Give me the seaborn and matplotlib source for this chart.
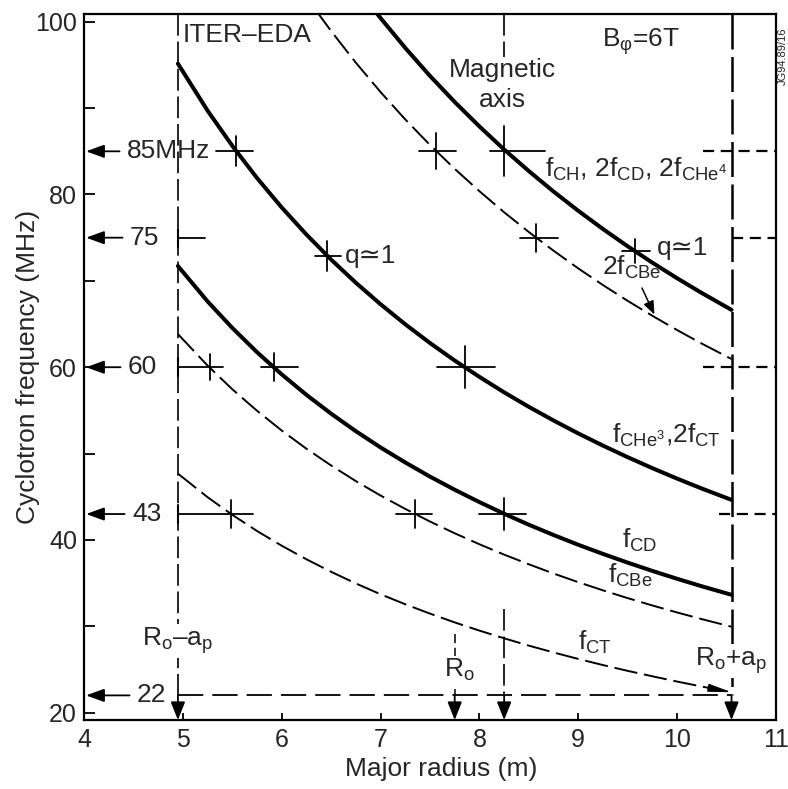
import matplotlib
matplotlib.use("Agg")
import matplotlib.pyplot as plt
from matplotlib.ticker import FixedLocator
import seaborn as sns

# ---------------------------------------------------------------- data
# Major-radius sample points (m)
R_FULL = [4.95, 5.25, 5.5, 5.75, 6.0, 6.25, 6.5, 6.75, 7.0, 7.25, 7.5, 7.75,
          8.0, 8.25, 8.5, 8.75, 9.0, 9.25, 9.5, 9.75, 10.0, 10.25, 10.55]
R_CH = [6.95, 7.0, 7.25, 7.5, 7.75, 8.0, 8.25, 8.5, 8.75, 9.0, 9.25, 9.5,
        9.75, 10.0, 10.25, 10.55]
R_2CBE = [6.35, 6.5, 6.75, 7.0, 7.25, 7.5, 7.75, 8.0, 8.25, 8.5, 8.75, 9.0,
          9.25, 9.5, 9.75, 10.0, 10.25, 10.55]

# Cyclotron frequencies (MHz) at B_phi = 6 T
F_CH = [101.15, 100.43, 96.97, 93.73, 90.71, 87.88, 85.21, 82.71, 80.34,
        78.11, 76.00, 74.00, 72.10, 70.30, 68.59, 66.64]
F_2CBE = [101.26, 98.92, 95.26, 91.86, 88.69, 85.73, 82.97, 80.38, 77.94,
          75.65, 73.49, 71.44, 69.51, 67.68, 65.95, 64.30, 62.73, 60.95]
F_CHE3 = [95.15, 89.71, 85.64, 81.91, 78.50, 75.36, 72.46, 69.78, 67.29,
          64.97, 62.80, 60.77, 58.88, 57.09, 55.41, 53.83, 52.33, 50.92,
          49.58, 48.31, 47.10, 45.95, 44.64]
F_CD = [71.72, 67.62, 64.55, 61.74, 59.17, 56.80, 54.62, 52.59, 50.71,
        48.97, 47.33, 45.81, 44.38, 43.03, 41.76, 40.57, 39.44, 38.38,
        37.37, 36.41, 35.50, 34.63, 33.65]
F_CBE = [63.84, 60.19, 57.45, 54.96, 52.67, 50.56, 48.62, 46.81, 45.14,
         43.59, 42.13, 40.77, 39.50, 38.30, 37.18, 36.11, 35.11, 34.16,
         33.26, 32.41, 31.60, 30.83, 29.95]
F_CT = [47.68, 44.95, 42.91, 41.04, 39.33, 37.76, 36.31, 34.96, 33.71,
        32.55, 31.47, 30.45, 29.50, 28.61, 27.76, 26.97, 26.22, 25.51,
        24.84, 24.21, 23.60, 23.02, 22.37]

# Heating frequencies marked on the frequency axis
LEVELS = [85, 75, 60, 43, 22]
LEVEL_TEXT = ["85MHz", "75", "60", "43", "22"]

# Plasma geometry (m)
R_INNER = 4.95     # Ro - ap
R_0 = 7.75         # Ro
R_MAG = 8.25       # magnetic axis
R_OUTER = 10.55    # Ro + ap

# Resonance crossings (R, f)
CROSS_R = [5.54, 7.565, 8.25, 8.57, 6.46, 9.57, 5.27, 5.92, 7.85, 5.49, 7.35, 8.25]
CROSS_F = [85, 85, 85, 75, 72.9, 73.5, 60, 60, 60, 43, 43, 43]

# ---------------------------------------------------------------- styling
XMIN, XMAX, YMIN, YMAX = 4, 11, 19.15, 100.9
AX_PX = (84, 69, 692, 706)                     # left, bottom, width, height
PX_R = AX_PX[2] / (XMAX - XMIN)
PX_F = AX_PX[3] / (YMAX - YMIN)

# cross arm lengths in pixels: left, right, half-height
ARM_L = [20, 17, 14, 16, 12, 13, 32, 13, 28, 53, 19, 25]
ARM_R = [17, 20, 41, 22, 14, 15, 13, 24, 30, 22, 17, 22]
ARM_V = [15, 18, 25, 14, 15, 12, 13, 14, 21, 14, 14, 16]

SOLID = dict(linewidth=2.9, linestyle="-")
DASHED = dict(linewidth=1.4, linestyle=(0, (12, 3.5)))

sns.set_style("white", {"axes.edgecolor": "black"})
plt.rcParams["font.family"] = ["Liberation Sans", "DejaVu Sans"]
plt.rcParams["mathtext.fontset"] = "custom"
plt.rcParams["mathtext.rm"] = "Liberation Sans"
plt.rcParams["mathtext.it"] = "Liberation Sans:italic"
plt.rcParams["mathtext.bf"] = "Liberation Sans:bold"

FS = 19
fig = plt.figure(figsize=(7.88, 7.89), dpi=100)
W, H = 788, 789
ax = fig.add_axes([AX_PX[0] / W, AX_PX[1] / H, AX_PX[2] / W, AX_PX[3] / H])

# ---------------------------------------------------------------- curves
curves = [
    (R_CH, F_CH, SOLID),
    (R_2CBE, F_2CBE, DASHED),
    (R_FULL, F_CHE3, SOLID),
    (R_FULL, F_CD, SOLID),
    (R_FULL, F_CBE, DASHED),
    (R_FULL, F_CT, DASHED),
]
for rr, ff, st in curves:
    sns.lineplot(x=rr, y=ff, ax=ax, color="black", estimator=None,
                 sort=False, legend=False, **st)

# ---------------------------------------------------------------- crosses
for r, f, l, rgt, v in zip(CROSS_R, CROSS_F, ARM_L, ARM_R, ARM_V):
    ax.plot([r - l / PX_R, r + rgt / PX_R], [f, f], color="black", lw=1.3)
    ax.plot([r, r], [f - v / PX_F, f + v / PX_F], color="black", lw=1.3)

# short stub at 75 MHz and small bars on the Ro-ap line
ax.plot([R_INNER, R_INNER + 27 / PX_R], [75, 75], color="black", lw=1.3)
for lev in LEVELS[1:4]:
    ax.plot([R_INNER, R_INNER], [lev - 9 / PX_F, lev + 9 / PX_F],
            color="black", lw=1.5)

# right-hand dashed level markers
RIGHT_START = [10.26, 10.55, 10.26, 10.42]
for lev, r0 in zip(LEVELS[:4], RIGHT_START):
    ax.plot([r0, XMAX], [lev, lev], color="black", lw=1.6,
            linestyle=(0, (5, 3)))

# 22 MHz line
ax.plot([R_INNER, R_OUTER], [LEVELS[4], LEVELS[4]], color="black", lw=1.3,
        linestyle=(0, (14, 5)))

# vertical geometry lines
vdash = dict(color="black", lw=1.2, linestyle=(0, (13, 3.5)))
ax.plot([R_INNER, R_INNER], [YMAX, LEVELS[4]], **vdash)
ax.plot([R_OUTER, R_OUTER], [YMAX, LEVELS[4]], color="black", lw=1.8,
        linestyle=(0, (14, 3)))
ax.plot([R_0, R_0], [29.1, LEVELS[4]], color="black", lw=1.1,
        linestyle=(0, (6, 3)))
ax.plot([R_MAG, R_MAG], [YMAX, 95.9], **vdash)
ax.plot([R_MAG, R_MAG], [32.0, LEVELS[4]], **vdash)

# downward arrows onto the radius axis
for r in [R_INNER, R_0, R_MAG, R_OUTER]:
    ax.annotate("", xy=(r, YMIN), xytext=(r, LEVELS[4]),
                arrowprops=dict(arrowstyle="-|>,head_length=0.55,head_width=0.22",
                                color="black", lw=1.3, shrinkA=0, shrinkB=0,
                                mutation_scale=20))

# frequency labels with arrows onto the frequency axis
TEXT_R = [4.435, 4.465, 4.445, 4.486, 4.536]
for lev, txt, tr in zip(LEVELS, LEVEL_TEXT, TEXT_R):
    ax.annotate(txt, xy=(XMIN, lev), xytext=(tr, lev), ha="left", va="center",
                fontsize=FS,
                arrowprops=dict(arrowstyle="-|>,head_length=0.55,head_width=0.2",
                                color="black", lw=1.3, shrinkA=3, shrinkB=1.5,
                                mutation_scale=20))

# end of f_CT onto the 22 MHz line
ax.annotate("", xy=(R_OUTER, 22.37), xytext=(10.36, 22.78),
            arrowprops=dict(arrowstyle="-|>,head_length=0.7,head_width=0.12",
                            color="black", lw=1.0, shrinkA=0, shrinkB=0,
                            mutation_scale=20))

# ---------------------------------------------------------------- text
ax.text(5.0, 97.66, "ITER–EDA", fontsize=FS, ha="left", va="baseline")
ax.text(R_MAG - 0.02, 93.6, "Magnetic", fontsize=FS, ha="center", va="baseline")
ax.text(R_MAG - 0.02, 90.1, "axis", fontsize=FS, ha="center", va="baseline")
ax.text(9.24, 97.1, r"B$_{\mathregular{φ}}$=6T", fontsize=FS, ha="left",
        va="baseline")
ax.text(8.66, 82.0,
        r"f$_{\mathregular{CH}}$, 2f$_{\mathregular{CD}}$, 2f$_{\mathregular{CHe^4}}$",
        fontsize=FS, ha="left", va="baseline")
ax.text(6.64, 72.9, "q≃1", fontsize=FS, ha="left", va="center")
ax.text(9.80, 73.8, "q≃1", fontsize=FS, ha="left", va="center")
ax.text(9.24, 70.7, r"2f$_{\mathregular{CBe}}$", fontsize=FS, ha="left",
        va="baseline")
ax.annotate("", xy=(9.77, 66.1), xytext=(9.644, 69.17),
            arrowprops=dict(arrowstyle="-|>,head_length=0.5,head_width=0.2",
                            color="black", lw=1.1, shrinkA=0, shrinkB=0,
                            mutation_scale=16))
ax.text(9.34, 51.3, r"f$_{\mathregular{CHe^3}}$,2f$_{\mathregular{CT}}$",
        fontsize=FS, ha="left", va="baseline")
ax.text(9.44, 39.1, r"f$_{\mathregular{CD}}$", fontsize=FS, ha="left",
        va="baseline")
ax.text(9.30, 35.0, r"f$_{\mathregular{CBe}}$", fontsize=FS, ha="left",
        va="baseline")
ax.text(9.00, 27.3, r"f$_{\mathregular{CT}}$", fontsize=FS, ha="left",
        va="baseline")

wbox = dict(facecolor="white", edgecolor="none", pad=1.0)
ax.text(R_INNER, 28.3, r"R$_{\mathregular{o}}$–a$_{\mathregular{p}}$",
        fontsize=FS, ha="center", va="center", bbox=wbox, zorder=5)
ax.text(R_0 + 0.05, 24.9, r"R$_{\mathregular{o}}$", fontsize=FS, ha="center",
        va="center", bbox=wbox, zorder=5)
ax.text(R_OUTER, 26.0, r"R$_{\mathregular{o}}$+a$_{\mathregular{p}}$",
        fontsize=FS, ha="center", va="center", bbox=wbox, zorder=5)

fig.text(783 / W, 1 - 56 / H, "JG94.89/16", fontsize=8, rotation=90,
         ha="center", va="center")

# ---------------------------------------------------------------- axes
ax.set_xlim(XMIN, XMAX)
ax.set_ylim(YMIN, YMAX)
ax.set_xticks(range(4, 12))
ax.set_yticks([20, 40, 60, 80, 100])
ax.yaxis.set_minor_locator(FixedLocator([30, 50, 70, 90]))
ax.tick_params(axis="both", which="both", direction="in", width=1.3,
               labelsize=18, color="black")
ax.tick_params(axis="y", which="both", length=8, pad=5, left=True)
ax.tick_params(axis="x", which="major", length=5, pad=6, bottom=True)
for s in ax.spines.values():
    s.set_linewidth(1.6)
    s.set_color("black")

ax.set_xlabel("Major radius (m)", fontsize=FS, va="top")
ax.set_ylabel("Cyclotron frequency (MHz)", fontsize=FS)
ax.xaxis.set_label_coords(0.516, -0.052)
ax.yaxis.set_label_coords(-0.063, 0.5)

fig.savefig("out.png", dpi=100, facecolor="white")
